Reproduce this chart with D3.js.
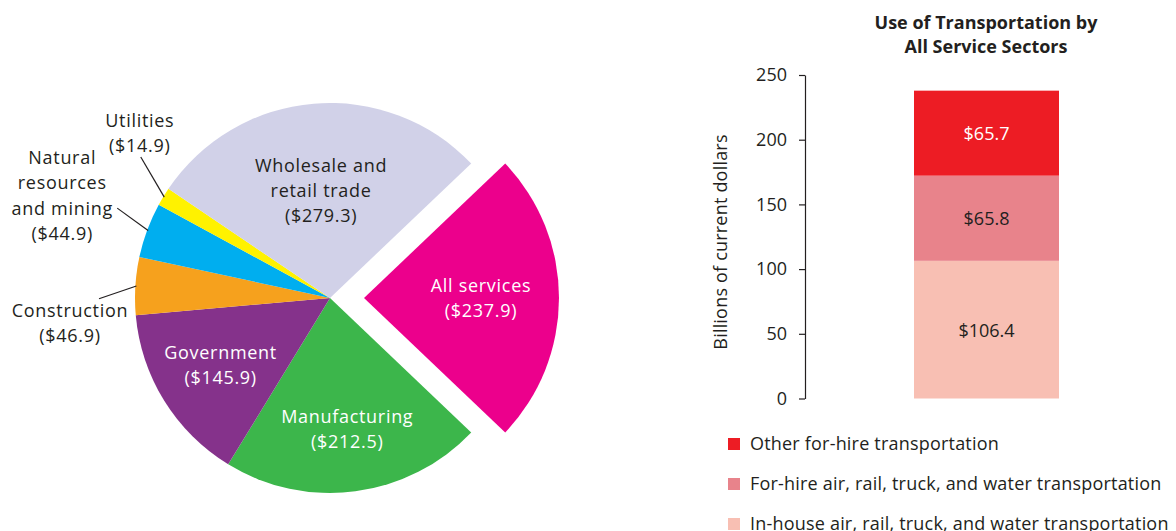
<!DOCTYPE html>
<html>
<head>
<meta charset="utf-8">
<script src="https://cdn.jsdelivr.net/npm/d3@7"></script>
<style>
  html, body { margin: 0; padding: 0; background: #fff; }
  svg { display: block; }
  text { font-family: "Open Sans", "Noto Sans", sans-serif; fill: #231f20; }
</style>
</head>
<body>
<svg id="chart" width="1176" height="531"></svg>
<script>
// Value added by sector (billions of current dollars)
const sectors = ["All services", "Manufacturing", "Government", "Construction",
                 "Natural resources and mining", "Utilities", "Wholesale and retail trade"];
const sectorValues = [237.9, 212.5, 145.9, 46.9, 44.9, 14.9, 279.3];
const sectorLabelLines = [["All services"], ["Manufacturing"], ["Government"], ["Construction"],
                          ["Natural", "resources", "and mining"], ["Utilities"], ["Wholesale and", "retail trade"]];

// Transportation used by all service sectors (billions of current dollars)
const transportModes = ["In-house air, rail, truck, and water transportation",
                        "For-hire air, rail, truck, and water transportation",
                        "Other for-hire transportation"];
const transportValues = [106.4, 65.8, 65.7];
const yTicks = [0, 50, 100, 150, 200, 250];

const svg = d3.select("#chart");
const money = v => "$" + d3.format(".1f")(v);

// ---------- Pie ----------
const cx = 330, cy = 298, R = 195, explode = 34;
const sliceColors = ["#ec008c", "#3cb64b", "#85328b", "#f6a11d", "#00aeef", "#fff200", "#d1d1e8"];
const total = d3.sum(sectorValues);
const startA = Math.PI / 2 - Math.PI * sectorValues[0] / total;  // centre "All services" on the right
const pie = d3.pie().sort(null).startAngle(startA).endAngle(startA + 2 * Math.PI);
const arcs = pie(sectorValues);
const arc = d3.arc().innerRadius(0).outerRadius(R);
const polar = (a, r) => [Math.sin(a) * r, -Math.cos(a) * r];
const mid = d => (d.startAngle + d.endAngle) / 2;

const pieG = svg.append("g").attr("transform", `translate(${cx},${cy})`);
const slice = pieG.selectAll("g.slice").data(arcs).join("g")
  .attr("class", "slice")
  .attr("transform", (d, i) => {
    if (i !== 0) return null;
    const [dx, dy] = polar(mid(d), explode);
    return `translate(${dx},${dy})`;
  });
slice.append("path").attr("d", arc).attr("fill", (d, i) => sliceColors[i]);

const pieFont = { size: "18px", spacing: "0.7px" };

// labels placed inside the larger slices
const innerLabel = { 0: { f: 0.6, c: "#fff" }, 1: { f: 0.68, c: "#fff" }, 2: { f: 0.66, c: "#fff" }, 6: { f: 0.55, c: "#231f20" } };
const lh = 25;
slice.each(function (d, i) {
  const cfg = innerLabel[i];
  if (!cfg) return;
  const lines = sectorLabelLines[i].concat(["(" + money(sectorValues[i]) + ")"]);
  const [x, y] = polar(mid(d), R * cfg.f);
  const t = d3.select(this).append("text")
    .attr("text-anchor", "middle")
    .style("font-size", pieFont.size)
    .style("letter-spacing", pieFont.spacing)
    .style("fill", cfg.c);
  lines.forEach((s, k) => {
    t.append("tspan").attr("x", x)
      .attr("y", y + (k - (lines.length - 1) / 2) * lh + 6)
      .text(s);
  });
});

// callout labels for the thin slices
const outerLabel = {
  3: { a: 269.8, r: 231, dx: -29, dy: [18, 43] },
  4: { a: 292.9, r: 231, dx: -55, dy: [-44, -19, 7, 32] },
  5: { a: 306.7, r: 236, dx: -1, dy: [-30, -5] }
};
arcs.forEach((d, i) => {
  const cfg = outerLabel[i];
  if (!cfg) return;
  const [x0, y0] = polar(mid(d), R - 1);
  const [x1, y1] = polar(cfg.a * Math.PI / 180, cfg.r);
  pieG.append("line")
    .attr("x1", x0).attr("y1", y0).attr("x2", x1).attr("y2", y1)
    .attr("stroke", "#231f20").attr("stroke-width", 1.2);
  const lines = sectorLabelLines[i].concat(["(" + money(sectorValues[i]) + ")"]);
  const t = pieG.append("text").attr("text-anchor", "middle")
    .style("font-size", pieFont.size).style("letter-spacing", pieFont.spacing);
  lines.forEach((s, k) => {
    t.append("tspan").attr("x", x1 + cfg.dx).attr("y", y1 + cfg.dy[k]).text(s);
  });
});

// ---------- Stacked bar ----------
const barColors = ["#f8bfb3", "#e8838b", "#ed1c24"];
const barText = ["#231f20", "#231f20", "#fff"];
const row = { group: "All service sectors" };
transportModes.forEach((m, i) => row[m] = transportValues[i]);
const stacked = d3.stack().keys(transportModes)([row]);

const y = d3.scaleLinear().domain([0, 250]).range([398.5, 75]);
const x = d3.scaleBand().domain([row.group]).range([914, 1059]);
const axisX = 805;

const yAxis = svg.append("g").attr("transform", `translate(${axisX},0)`)
  .call(d3.axisLeft(y).tickValues(yTicks).tickSize(6).tickSizeOuter(0).tickPadding(12));
yAxis.selectAll("path, line").attr("stroke", "#231f20").attr("stroke-width", 1.2);
yAxis.selectAll("text").style("font-size", "18px").style("font-family", "'Open Sans', sans-serif").attr("fill", "#231f20");

svg.append("text")
  .attr("transform", `translate(727,242) rotate(-90)`)
  .attr("text-anchor", "middle")
  .style("font-size", "18px")
  .style("letter-spacing", "0.2px")
  .text("Billions of current dollars");

const layer = svg.selectAll("g.layer").data(stacked).join("g").attr("class", "layer");
layer.append("rect")
  .attr("x", x(row.group)).attr("width", x.bandwidth())
  .attr("y", d => y(d[0][1])).attr("height", d => y(d[0][0]) - y(d[0][1]))
  .attr("fill", (d, i) => barColors[i]);
layer.append("text")
  .attr("x", x(row.group) + x.bandwidth() / 2)
  .attr("y", d => y((d[0][0] + d[0][1]) / 2) + 7)
  .attr("text-anchor", "middle")
  .style("font-size", "18px")
  .style("fill", (d, i) => barText[i])
  .text((d, i) => money(transportValues[i]));

// title
const title = svg.append("text").attr("text-anchor", "middle")
  .style("font-size", "18px").style("font-weight", "bold");
title.append("tspan").attr("x", 986).attr("y", 29).text("Use of Transportation by");
title.append("tspan").attr("x", 986).attr("y", 53).text("All Service Sectors");

// legend, top entry first
const legend = svg.append("g").selectAll("g").data(transportModes.slice().reverse()).join("g")
  .attr("transform", (d, k) => `translate(728,${438 + k * 40})`);
legend.append("rect").attr("width", 12).attr("height", 12)
  .attr("fill", d => barColors[transportModes.indexOf(d)]);
legend.append("text").attr("x", 22).attr("y", 12)
  .style("font-size", "18px").style("letter-spacing", "0.2px").text(d => d);
</script>
</body>
</html>
